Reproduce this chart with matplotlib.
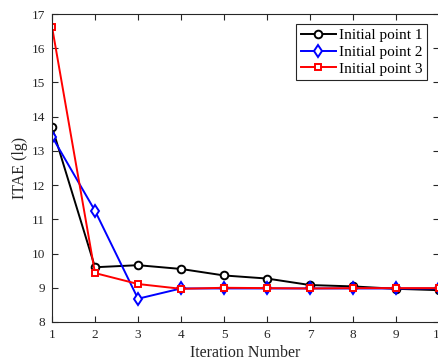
import numpy as np
import matplotlib
matplotlib.use('Agg')
import matplotlib.pyplot as plt

plt.rcParams['font.family'] = ['Liberation Serif', 'DejaVu Serif']
plt.rcParams['mathtext.fontset'] = 'stix'

# Data
iterations = [1, 2, 3, 4, 5, 6, 7, 8, 9, 10]
point1 = [13.70, 9.60, 9.66, 9.55, 9.36, 9.27, 9.08, 9.04, 8.97, 8.93]
point2 = [13.42, 11.25, 8.68, 8.98, 8.98, 8.98, 8.98, 8.98, 8.98, 8.98]
point3 = [16.63, 9.43, 9.11, 8.97, 9.00, 8.99, 8.98, 8.99, 8.99, 8.99]
labels = ['Initial point 1', 'Initial point 2', 'Initial point 3']
yticks = [8, 9, 10, 11, 12, 13, 14, 15, 16, 17]

fig = plt.figure(figsize=(4.38, 3.6), dpi=100)
ax = fig.add_axes([52 / 438, 1 - 322 / 360, 387 / 438, 308 / 360])

ax.plot(iterations, point1, color='k', marker='o', markersize=5.5, markerfacecolor='white',
        markeredgewidth=1.4, linewidth=1.4, label=labels[0])
ax.plot(iterations, point2, color='b', marker='d', markersize=6.5, markerfacecolor='white',
        markeredgewidth=1.4, linewidth=1.4, label=labels[1])
ax.plot(iterations, point3, color='r', marker='s', markersize=5, markerfacecolor='white',
        markeredgewidth=1.4, linewidth=1.4, label=labels[2])

ax.set_xlim(1, 10)
ax.set_ylim(8, 17)
ax.set_xticks(iterations)
ax.set_yticks(yticks)
ax.tick_params(direction='in', top=True, right=True, labelsize=9.5, colors='#262626',
               length=4, pad=5)
for s in ax.spines.values():
    s.set_color('#262626')
    s.set_linewidth(0.8)
ax.set_xlabel('Iteration Number', fontsize=11.5, color='#262626', labelpad=3)
ax.set_ylabel('ITAE (lg)', fontsize=11.5, color='#262626', labelpad=3)

leg = ax.legend(loc='upper right', bbox_to_anchor=(0.969, 0.9675), fontsize=11,
                fancybox=False, edgecolor='#262626', framealpha=1,
                handlelength=2.3, handletextpad=0.2, borderpad=0.3,
                labelspacing=0.2, borderaxespad=0.0)
leg.get_frame().set_linewidth(0.8)

fig.savefig('out.png', dpi=100)
